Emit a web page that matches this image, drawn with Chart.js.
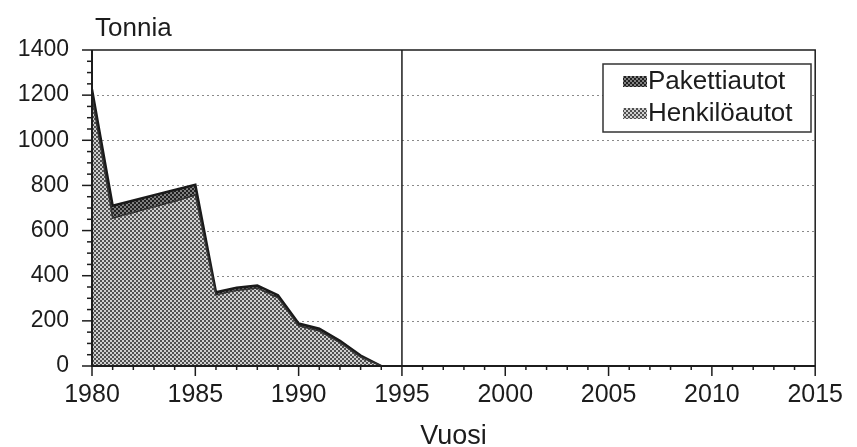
<!DOCTYPE html>
<html><head><meta charset="utf-8">
<script src="https://cdn.jsdelivr.net/npm/chart.js@4"></script>
<style>html,body{margin:0;padding:0;background:#fff}#wrap{width:857px;height:447px}</style>
</head><body><div id="wrap"><canvas id="c" width="857" height="447"></canvas></div>
<script>
// ---- data ----
const years        = [1980,1981,1982,1983,1984,1985,1986,1987,1988,1989,1990,1991,1992,1993,1994];
const henkiloautot = [1195, 655, 680, 705, 730, 758, 315, 335, 345, 302, 178, 155, 104,  40,   0];
const pakettiautot = [  30,  55,  53,  52,  50,  45,  12,  12,  12,  12,  10,  10,   8,   6,   0];
const seriesLabels = ['Henkilöautot','Pakettiautot'];
const xTickValues  = [1980,1985,1990,1995,2000,2005,2010,2015];
const yTickValues  = [0,200,400,600,800,1000,1200,1400];
const yTitle = 'Tonnia';
const xTitle = 'Vuosi';
const markerYear = 1995;

const FONT = "'Liberation Sans', Arial, sans-serif";
const INK = '#1c1c1c';

function makePattern(dark, light){
  const c = document.createElement('canvas'); c.width = 4; c.height = 4;
  const g = c.getContext('2d');
  g.fillStyle = light; g.fillRect(0,0,4,4);
  g.fillStyle = dark; g.fillRect(0,0,2,2); g.fillRect(2,2,2,2);
  return g.createPattern(c,'repeat');
}
const patHenkilo = makePattern('#505050','#cfcfcf');
const patPaketti = makePattern('#202020','#808080');

const toXY = arr => arr.map((v,i)=>({x:years[i], y:v}));

const decorPlugin = {
  id:'decor',
  beforeDatasetsDraw(chart){
    const {ctx, chartArea:a, scales:{x,y}} = chart;
    ctx.save();
    ctx.strokeStyle = '#8a8a8a'; ctx.lineWidth = 1; ctx.setLineDash([2,3]);
    yTickValues.forEach(v=>{
      if (v===yTickValues[0] || v===yTickValues[yTickValues.length-1]) return;
      const py = Math.round(y.getPixelForValue(v))+0.5;
      ctx.beginPath(); ctx.moveTo(a.left, py); ctx.lineTo(a.right, py); ctx.stroke();
    });
    ctx.restore();
  },
  afterDatasetsDraw(chart){
    const {ctx, chartArea:a, scales:{x,y}} = chart;
    ctx.save();
    ctx.strokeStyle = INK; ctx.setLineDash([]);
    // frame
    ctx.lineWidth = 1.5;
    ctx.beginPath(); ctx.moveTo(a.left, a.top); ctx.lineTo(a.right, a.top); ctx.lineTo(a.right, a.bottom); ctx.stroke();
    ctx.lineWidth = 2;
    ctx.beginPath(); ctx.moveTo(a.left, a.top); ctx.lineTo(a.left, a.bottom); ctx.lineTo(a.right, a.bottom); ctx.stroke();
    // marker vertical line
    const mx = x.getPixelForValue(markerYear);
    ctx.lineWidth = 1.5;
    ctx.beginPath(); ctx.moveTo(mx, a.top); ctx.lineTo(mx, a.bottom); ctx.stroke();
    // y ticks (major every 200, minor every 50)
    ctx.lineWidth = 1.5;
    const yMin = yTickValues[0], yMax = yTickValues[yTickValues.length-1];
    for (let v = yMin; v <= yMax; v += 50){
      const py = y.getPixelForValue(v);
      const len = (v % 200 === 0) ? 10 : 5;
      ctx.beginPath(); ctx.moveTo(a.left - len, py); ctx.lineTo(a.left, py); ctx.stroke();
    }
    // x ticks (major every 5, minor every year)
    for (let v = xTickValues[0]; v <= xTickValues[xTickValues.length-1]; v++){
      const px = x.getPixelForValue(v);
      const len = (v % 5 === 0) ? 10 : 4;
      ctx.beginPath(); ctx.moveTo(px, a.bottom); ctx.lineTo(px, a.bottom + len); ctx.stroke();
    }
    // titles
    ctx.fillStyle = INK;
    ctx.font = '26px ' + FONT; ctx.textAlign = 'left'; ctx.textBaseline = 'alphabetic';
    ctx.fillText(yTitle, a.left + 3, 36);
    ctx.font = '27px ' + FONT; ctx.textAlign = 'center';
    ctx.fillText(xTitle, (a.left + a.right)/2, 444);
    // legend box
    const bx = 603, by = 64, bw = 208, bh = 68;
    ctx.fillStyle = '#fff'; ctx.fillRect(bx, by, bw, bh);
    ctx.lineWidth = 1.5; ctx.strokeStyle = '#333';
    ctx.strokeRect(bx, by, bw, bh);
    const items = [
      {label: chart.data.datasets[1].label, pat: patPaketti, cy: 81},
      {label: chart.data.datasets[0].label, pat: patHenkilo, cy: 113}
    ];
    ctx.font = '26px ' + FONT; ctx.textAlign = 'left'; ctx.textBaseline = 'middle';
    items.forEach(it=>{
      ctx.fillStyle = it.pat; ctx.fillRect(bx + 20, it.cy - 5, 24, 11);
      ctx.fillStyle = INK; ctx.fillText(it.label, bx + 45, it.cy + 1);
    });
    ctx.restore();
  }
};

new Chart(document.getElementById('c'), {
  type: 'line',
  data: {
    datasets: [
      {label: seriesLabels[0], data: toXY(henkiloautot), fill: 'origin',
       backgroundColor: patHenkilo, borderColor: '#333', borderWidth: 1.5, pointRadius: 0, tension: 0},
      {label: seriesLabels[1], data: toXY(pakettiautot), fill: '-1',
       backgroundColor: patPaketti, borderColor: '#1a1a1a', borderWidth: 2.5, pointRadius: 0, tension: 0}
    ]
  },
  options: {
    responsive: false, animation: false, devicePixelRatio: 1,
    layout: {padding: {top: 50, right: 32, left: 0, bottom: 0}},
    plugins: {legend: {display: false}, tooltip: {enabled: false}},
    scales: {
      x: {
        type: 'linear', min: xTickValues[0], max: xTickValues[xTickValues.length-1],
        afterBuildTicks: s => { s.ticks = xTickValues.map(v=>({value:v})); },
        ticks: {font: {size: 25, family: FONT}, color: INK, padding: 14, maxRotation: 0, autoSkip: false,
                callback: v => String(v)},
        grid: {display: false, drawTicks: false}, border: {display: false},
        afterFit: s => { s.height = 81; }
      },
      y: {
        stacked: true, min: yTickValues[0], max: yTickValues[yTickValues.length-1],
        afterBuildTicks: s => { s.ticks = yTickValues.map(v=>({value:v})); },
        ticks: {font: {size: 23, family: FONT}, color: INK, padding: 23, autoSkip: false,
                callback: v => String(v)},
        grid: {display: false, drawTicks: false}, border: {display: false},
        afterFit: s => { s.width = 92; }
      }
    }
  },
  plugins: [decorPlugin]
});
</script>
</body></html>
